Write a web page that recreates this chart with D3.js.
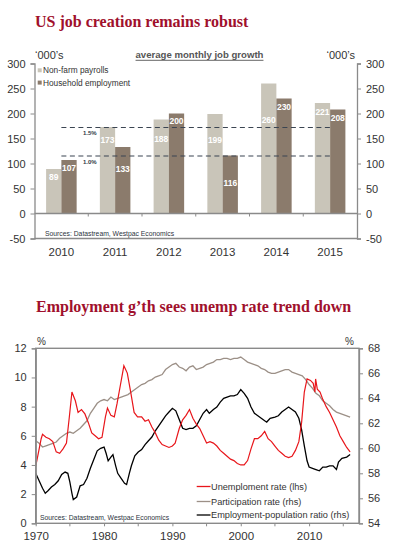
<!doctype html>
<html lang="en">
<head>
    <meta charset="UTF-8">
    <title>US jobs</title>
    <style>
        body { margin: 0; background: #fff; }
        svg { display: block; }
    </style>
</head>
<body>
<script src="https://cdn.jsdelivr.net/npm/d3@7/dist/d3.min.js"></script>
<script>

    // ---- chart 1 data: average monthly job growth ('000s)
    const years = ['2010', '2011', '2012', '2013', '2014', '2015']
    const nonFarm = [89, 173, 188, 199, 260, 221]
    const household = [107, 133, 200, 116, 230, 208]
    const jobTicks = [-50, 0, 50, 100, 150, 200, 250, 300]
    const guideLabels = ['1.5%', '1.0%']
    const guideValues = [172, 115]

    // ---- chart 2 data: [year, value]
    const unempRate = [
        [1970.0, 3.9], [1970.3, 4.6], [1970.8, 5.8], [1971.0, 6.1], [1971.5, 5.9], [1972.0, 5.8],
        [1972.5, 5.6], [1973.0, 4.9], [1973.5, 4.8], [1974.0, 5.1], [1974.5, 5.5], [1974.9, 7.2],
        [1975.3, 9.0], [1975.8, 8.4], [1976.2, 7.6], [1976.7, 7.8], [1977.2, 7.5], [1977.7, 6.9],
        [1978.2, 6.2], [1978.7, 6.0], [1979.2, 5.8], [1979.7, 5.9], [1980.2, 7.3], [1980.5, 7.9],
        [1981.0, 7.4], [1981.5, 7.3], [1981.9, 8.2], [1982.4, 9.5], [1982.9, 10.8], [1983.4, 10.3],
        [1983.9, 9.0], [1984.4, 7.6], [1984.9, 7.3], [1985.5, 7.3], [1986.0, 7.0], [1986.5, 7.1],
        [1987.0, 6.6], [1987.5, 6.2], [1988.0, 5.7], [1988.5, 5.4], [1989.0, 5.3], [1989.5, 5.2],
        [1990.0, 5.3], [1990.4, 5.5], [1991.0, 6.5], [1991.5, 7.1], [1992.0, 7.4], [1992.5, 7.8],
        [1993.0, 7.2], [1993.5, 6.8], [1994.0, 6.5], [1994.5, 6.0], [1995.0, 5.5], [1995.5, 5.6],
        [1996.0, 5.5], [1996.5, 5.3], [1997.0, 5.0], [1997.5, 4.8], [1998.0, 4.6], [1998.5, 4.4],
        [1999.0, 4.3], [1999.5, 4.1], [2000.0, 4.0], [2000.5, 4.0], [2001.0, 4.3], [2001.5, 5.1],
        [2002.0, 5.8], [2002.5, 5.8], [2003.0, 6.0], [2003.5, 6.3], [2004.0, 5.8], [2004.5, 5.6],
        [2005.0, 5.3], [2005.5, 5.0], [2006.0, 4.8], [2006.5, 4.6], [2007.0, 4.5], [2007.5, 4.6],
        [2008.0, 5.0], [2008.5, 5.6], [2008.9, 6.9], [2009.3, 9.0], [2009.7, 9.9], [2010.2, 9.8],
        [2010.6, 9.6], [2010.85, 9.0], [2010.95, 9.9], [2011.2, 9.2], [2011.6, 9.0], [2012.0, 8.5],
        [2012.5, 8.0], [2013.0, 7.6], [2013.5, 7.1], [2014.0, 6.6], [2014.5, 6.0], [2015.0, 5.6],
        [2015.5, 5.2], [2016.0, 4.9]
    ]
    const partRate = [
        [1970.0, 60.6], [1970.5, 60.4], [1971.0, 60.1], [1971.5, 60.2], [1972.0, 60.3], [1972.5, 60.4],
        [1973.0, 60.5], [1973.5, 60.8], [1974.0, 61.0], [1974.5, 61.2], [1975.0, 61.3], [1975.5, 61.2],
        [1976.0, 61.4], [1976.5, 61.6], [1977.0, 61.9], [1977.5, 62.2], [1978.0, 62.8], [1978.5, 63.2],
        [1979.0, 63.6], [1979.5, 63.8], [1980.0, 63.9], [1980.5, 63.8], [1981.0, 64.1], [1981.5, 63.9],
        [1982.0, 64.0], [1982.5, 64.1], [1983.0, 64.2], [1983.5, 64.3], [1984.0, 64.5], [1984.5, 64.7],
        [1985.0, 64.9], [1985.5, 65.1], [1986.0, 65.2], [1986.5, 65.4], [1987.0, 65.5], [1987.5, 65.7],
        [1988.0, 65.8], [1988.5, 65.9], [1989.0, 66.3], [1989.5, 66.5], [1990.0, 66.7], [1990.5, 66.8],
        [1991.0, 66.5], [1991.5, 66.4], [1992.0, 66.2], [1992.5, 66.5], [1993.0, 66.6], [1993.5, 66.3],
        [1994.0, 66.4], [1994.5, 66.5], [1995.0, 66.7], [1995.5, 66.8], [1996.0, 66.9], [1996.5, 67.1],
        [1997.0, 67.1], [1997.5, 67.2], [1998.0, 67.2], [1998.5, 67.1], [1999.0, 67.2], [1999.5, 67.2],
        [2000.0, 67.3], [2000.5, 67.1], [2001.0, 66.9], [2001.5, 66.8], [2002.0, 66.7], [2002.5, 66.6],
        [2003.0, 66.4], [2003.5, 66.3], [2004.0, 66.1], [2004.5, 66.0], [2005.0, 66.0], [2005.5, 66.1],
        [2006.0, 66.2], [2006.5, 66.3], [2007.0, 66.3], [2007.5, 66.1], [2008.0, 66.0], [2008.5, 65.9],
        [2009.0, 65.8], [2009.5, 65.5], [2010.0, 65.1], [2010.5, 64.8], [2011.0, 64.4], [2011.5, 64.2],
        [2012.0, 63.8], [2012.5, 63.6], [2013.0, 63.4], [2013.5, 63.1], [2014.0, 62.9], [2014.5, 62.8],
        [2015.0, 62.7], [2015.5, 62.6], [2016.0, 62.5]
    ]
    const empPopRatio = [
        [1970.0, 58.0], [1970.5, 57.4], [1971.0, 56.8], [1971.4, 56.4], [1971.8, 56.6], [1972.3, 56.9],
        [1972.8, 57.1], [1973.3, 57.4], [1973.8, 57.9], [1974.3, 58.1], [1974.7, 58.0], [1975.0, 57.3],
        [1975.3, 56.4], [1975.5, 55.9], [1976.0, 56.1], [1976.5, 57.0], [1977.0, 57.1], [1977.5, 57.6],
        [1978.0, 58.4], [1978.5, 59.1], [1979.0, 59.8], [1979.5, 60.0], [1980.0, 60.1], [1980.3, 59.6],
        [1980.6, 59.0], [1981.0, 59.3], [1981.3, 59.5], [1981.7, 58.6], [1982.0, 58.0], [1982.5, 57.6],
        [1983.0, 57.2], [1983.3, 57.1], [1983.7, 58.0], [1984.0, 58.6], [1984.5, 59.4], [1985.0, 59.7],
        [1985.5, 59.9], [1986.0, 60.3], [1986.5, 60.6], [1987.0, 60.9], [1987.5, 61.4], [1988.0, 61.8],
        [1988.5, 62.2], [1989.0, 62.6], [1989.5, 62.9], [1990.0, 63.2], [1990.5, 63.0], [1991.0, 62.3],
        [1991.5, 61.6], [1992.0, 61.5], [1992.5, 61.6], [1993.0, 61.6], [1993.5, 61.8], [1994.0, 62.3],
        [1994.5, 62.8], [1995.0, 63.1], [1995.4, 62.8], [1996.0, 63.1], [1996.5, 63.3], [1997.0, 63.7],
        [1997.5, 64.0], [1998.0, 64.1], [1998.5, 64.2], [1999.0, 64.2], [1999.5, 64.3], [2000.0, 64.7],
        [2000.5, 64.4], [2001.0, 64.0], [2001.5, 63.3], [2002.0, 62.8], [2002.5, 62.6], [2003.0, 62.4],
        [2003.5, 62.2], [2003.8, 62.1], [2004.3, 62.4], [2005.0, 62.5], [2005.5, 62.6], [2006.0, 62.9],
        [2006.5, 63.1], [2007.0, 63.3], [2007.5, 63.1], [2008.0, 62.9], [2008.5, 62.4], [2008.9, 61.5],
        [2009.3, 60.2], [2009.7, 59.0], [2010.0, 58.5], [2010.5, 58.4], [2011.0, 58.3], [2011.5, 58.2],
        [2012.0, 58.5], [2012.5, 58.5], [2013.0, 58.6], [2013.5, 58.6], [2014.0, 58.3], [2014.3, 58.9],
        [2014.8, 59.2], [2015.5, 59.3], [2016.0, 59.5]
    ]
    const lhsTicks = [0, 2, 4, 6, 8, 10, 12]
    const rhsTicks = [54, 56, 58, 60, 62, 64, 66, 68]
    const yearTicks = [1970, 1980, 1990, 2000, 2010]
    const minorYearTicks = [1975, 1985, 1995, 2005, 2015]
    const seriesNames = ['Unemploment rate (lhs)', 'Participation rate (rhs)', 'Employment-population ratio (rhs)']

    // label drop (px under bar top) so labels dodge the guide lines, as in the original
    const dropNonFarm = [8, 13, 19.5, 26, 36.5, 9]
    const dropHousehold = [8, 22, 7.5, 27, 8, 8]

    const titleRed = '#a0102c'
    const axisGrey = '#8a8a8a'
    const textCol = '#333'
    const lightBar = '#c9c5b9'
    const darkBar = '#8b7b6c'
    const sans = 'Arial, "Liberation Sans", sans-serif'
    const serif = '"Liberation Serif", "Times New Roman", serif'

    const svg = d3.select('body').append('svg')
        .attr('width', 394)
        .attr('height', 557)
        .attr('font-family', sans)

    // ===================== chart 1 =====================
    svg.append('text')
        .attr('x', 35).attr('y', 27)
        .attr('font-family', serif)
        .attr('font-weight', 'bold')
        .attr('font-size', 16)
        .attr('fill', titleRed)
        .text('US job creation remains robust')

    const x0 = d3.scaleBand().domain(years).range([34.5, 357])
    const x1 = d3.scaleBand().domain(['nfp', 'hh']).range([0, x0.bandwidth()]).paddingOuter(0.76)
    const y1 = d3.scaleLinear().domain([-50, 300]).range([238.5, 63.5])

    const c1 = svg.append('g')

    // bars
    const groups = c1.selectAll('g.yr')
        .data(years)
        .enter()
        .append('g')
        .attr('transform', d => `translate(${x0(d)},0)`)

    groups.append('rect')
        .attr('x', x1('nfp'))
        .attr('width', x1.bandwidth())
        .attr('y', (d, i) => y1(nonFarm[i]))
        .attr('height', (d, i) => y1(0) - y1(nonFarm[i]))
        .attr('fill', lightBar)

    groups.append('rect')
        .attr('x', x1('hh'))
        .attr('width', x1.bandwidth())
        .attr('y', (d, i) => y1(household[i]))
        .attr('height', (d, i) => y1(0) - y1(household[i]))
        .attr('fill', darkBar)

    groups.append('text')
        .attr('x', x1('nfp') + x1.bandwidth() / 2)
        .attr('y', (d, i) => y1(nonFarm[i]) + dropNonFarm[i] + 3)
        .attr('text-anchor', 'middle')
        .attr('font-size', 8.5).attr('font-weight', 'bold')
        .attr('fill', '#fff')
        .text((d, i) => nonFarm[i])

    groups.append('text')
        .attr('x', x1('hh') + x1.bandwidth() / 2)
        .attr('y', (d, i) => y1(household[i]) + dropHousehold[i] + 3)
        .attr('text-anchor', 'middle')
        .attr('font-size', 8.5).attr('font-weight', 'bold')
        .attr('fill', '#fff')
        .text((d, i) => household[i])

    // dashed guides
    const gx1 = x0(years[0]) + x0.bandwidth() / 2
    const gx2 = x0(years[years.length - 1]) + x0.bandwidth() / 2
    guideValues.forEach((v, i) => {
        c1.append('line')
            .attr('x1', gx1).attr('x2', gx2)
            .attr('y1', y1(v)).attr('y2', y1(v))
            .attr('stroke', '#3b4552')
            .attr('stroke-width', 1.2)
            .attr('stroke-dasharray', '5,3.5')
        c1.append('text')
            .attr('x', x0(years[1]) + 1.5)
            .attr('y', y1(v) + 7.5)
            .attr('text-anchor', 'middle')
            .attr('font-size', 6).attr('font-weight', 'bold')
            .attr('fill', '#2f3a48')
            .text(guideLabels[i])
    })

    // axes
    c1.append('line')
        .attr('x1', 34.5).attr('x2', 357).attr('y1', y1(0)).attr('y2', y1(0))
        .attr('stroke', axisGrey).attr('stroke-width', 1.3)
    c1.append('line')
        .attr('x1', 34.5).attr('x2', 357).attr('y1', y1(-50)).attr('y2', y1(-50))
        .attr('stroke', axisGrey).attr('stroke-width', 1.3)
    c1.selectAll('line.xt')
        .data(years.slice(1))
        .enter()
        .append('line')
        .attr('x1', d => x0(d)).attr('x2', d => x0(d))
        .attr('y1', y1(0)).attr('y2', y1(0) + 3)
        .attr('stroke', axisGrey)

    const plainNum = d => String(d)

    const leftAx1 = c1.append('g')
        .attr('transform', 'translate(34.5,0)')
        .call(d3.axisLeft(y1).tickValues(jobTicks).tickFormat(plainNum).tickSize(4).tickPadding(5))
    const rightAx1 = c1.append('g')
        .attr('transform', 'translate(357,0)')
        .call(d3.axisRight(y1).tickValues(jobTicks).tickFormat(plainNum).tickSize(4).tickPadding(5))

    const styleAxis = g => {
        g.attr('font-family', sans)
        g.select('.domain').attr('stroke', axisGrey).attr('stroke-width', 1.3)
        g.selectAll('.tick line').attr('stroke', axisGrey)
        g.selectAll('.tick text').attr('fill', textCol).attr('font-size', 11)
    }
    styleAxis(leftAx1)
    styleAxis(rightAx1)

    c1.selectAll('text.yr')
        .data(years)
        .enter()
        .append('text')
        .attr('x', d => x0(d) + x0.bandwidth() / 2)
        .attr('y', 256)
        .attr('text-anchor', 'middle')
        .attr('font-size', 11.5)
        .attr('fill', textCol)
        .text(d => d)

    c1.append('text').attr('x', 35).attr('y', 59)
        .attr('font-size', 11).attr('fill', textCol).text('\u2018000\u2019s')
    c1.append('text').attr('x', 355).attr('y', 59).attr('text-anchor', 'end')
        .attr('font-size', 11).attr('fill', textCol).text('\u2018000\u2019s')

    const sub = c1.append('text').attr('x', 199.5).attr('y', 58).attr('text-anchor', 'middle')
        .attr('font-size', 9.6).attr('font-weight', 'bold').attr('fill', '#555')
        .text('average monthly job growth')
    const subW = sub.node().getComputedTextLength()
    c1.append('line')
        .attr('x1', 199.5 - subW / 2).attr('x2', 199.5 + subW / 2)
        .attr('y1', 60.3).attr('y2', 60.3)
        .attr('stroke', '#555').attr('stroke-width', 0.9)

    // legend
    const legend1 = [['Non-farm payrolls', lightBar], ['Household employment', darkBar]]
    legend1.forEach((d, i) => {
        c1.append('rect').attr('x', 37.7).attr('y', 68.3 + i * 12.3)
            .attr('width', 4).attr('height', 4).attr('fill', d[1])
        c1.append('text').attr('x', 43).attr('y', 73.3 + i * 12.3)
            .attr('font-size', 8.3).attr('fill', textCol).text(d[0])
    })

    c1.append('text').attr('x', 45).attr('y', 235.5)
        .attr('font-size', 6.8).attr('fill', '#2c3440')
        .text('Sources: Datastream, Westpac Economics')

    // ===================== chart 2 =====================
    svg.append('text')
        .attr('x', 36).attr('y', 312)
        .attr('font-family', serif)
        .attr('font-weight', 'bold')
        .attr('font-size', 16)
        .attr('fill', titleRed)
        .text('Employment g\u2019th sees unemp rate trend down')

    const xT = d3.scaleLinear().domain([1970, 2017.3]).range([35.7, 359])
    const yL = d3.scaleLinear().domain([0, 12]).range([523.3, 348.3])
    const yR = d3.scaleLinear().domain([54, 68]).range([523.3, 348.3])

    const c2 = svg.append('g')

    const lineL = d3.line().x(d => xT(d[0])).y(d => yL(d[1]))
    const lineR = d3.line().x(d => xT(d[0])).y(d => yR(d[1]))

    const seriesCols = ['#e8161b', '#9c9087', '#000']

    c2.append('path').datum(partRate).attr('d', lineR)
        .attr('fill', 'none').attr('stroke', seriesCols[1]).attr('stroke-width', 1.3)
    c2.append('path').datum(empPopRatio).attr('d', lineR)
        .attr('fill', 'none').attr('stroke', seriesCols[2]).attr('stroke-width', 1.3)
    c2.append('path').datum(unempRate).attr('d', lineL)
        .attr('fill', 'none').attr('stroke', seriesCols[0]).attr('stroke-width', 1.2)

    // frame
    c2.append('rect')
        .attr('x', xT(1970)).attr('y', yL(12))
        .attr('width', xT(2017.3) - xT(1970)).attr('height', yL(0) - yL(12))
        .attr('fill', 'none').attr('stroke', axisGrey).attr('stroke-width', 1.4)

    const leftAx2 = c2.append('g')
        .attr('transform', `translate(${xT(1970)},0)`)
        .call(d3.axisLeft(yL).tickValues(lhsTicks).tickFormat(plainNum).tickSize(4).tickPadding(5))
    const rightAx2 = c2.append('g')
        .attr('transform', `translate(${xT(2017.3)},0)`)
        .call(d3.axisRight(yR).tickValues(rhsTicks).tickFormat(plainNum).tickSize(4).tickPadding(5))
    styleAxis(leftAx2)
    styleAxis(rightAx2)

    const bottomAx2 = c2.append('g')
        .attr('transform', `translate(0,${yL(0)})`)
        .call(d3.axisBottom(xT).tickValues(yearTicks).tickFormat(plainNum).tickSize(3).tickPadding(6))
    styleAxis(bottomAx2)
    bottomAx2.selectAll('.tick text').attr('font-size', 11.5)
    bottomAx2.select('.domain').remove()
    c2.selectAll('line.minor')
        .data(minorYearTicks)
        .enter()
        .append('line')
        .attr('x1', d => xT(d)).attr('x2', d => xT(d))
        .attr('y1', yL(0)).attr('y2', yL(0) + 3)
        .attr('stroke', axisGrey)

    c2.append('text').attr('x', 37).attr('y', 345)
        .attr('font-size', 10).attr('fill', textCol).text('%')
    c2.append('text').attr('x', 354).attr('y', 345).attr('text-anchor', 'end')
        .attr('font-size', 10).attr('fill', textCol).text('%')

    // legend
    const legY = [486.5, 501.5, 515]
    seriesNames.forEach((name, i) => {
        c2.append('line')
            .attr('x1', 196.7).attr('x2', 210.5)
            .attr('y1', legY[i]).attr('y2', legY[i])
            .attr('stroke', seriesCols[i]).attr('stroke-width', 1.3)
        c2.append('text').attr('x', 211).attr('y', legY[i] + 3.2)
            .attr('font-size', 9.2).attr('fill', textCol).text(name)
    })

    c2.append('text').attr('x', 40).attr('y', 520)
        .attr('font-size', 6.8).attr('fill', '#2c3440')
        .text('Sources: Datastream, Westpac Economics')

</script>
</body>
</html>
